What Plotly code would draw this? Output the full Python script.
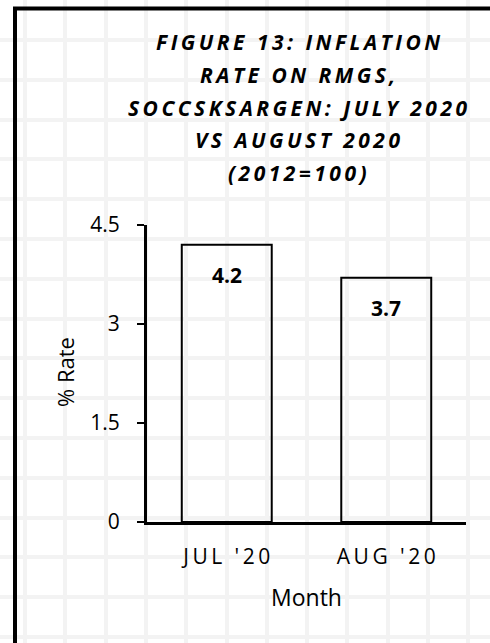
import plotly.graph_objects as go

# ---- data ----
months = ["JUL '20", "AUG '20"]
rates = [4.2, 3.7]
y_ticks = [0, 1.5, 3, 4.5]
y_tick_labels = ["0", "1.5", "3", "4.5"]
title_lines = [
    "FIGURE 13: INFLATION",
    "RATE ON RMGS,",
    "SOCCSKSARGEN: JULY 2020",
    "VS AUGUST 2020",
    "(2012=100)",
]
x_title = "Month"
y_title = "% Rate"

W, H = 490, 643
TS = "\u2009"  # thin space used to emulate letter spacing


def spaced(s):
    return TS.join(list(s))


def px(x):
    return x / W


def py(y):
    return 1 - y / H


FONT = "Open Sans"

fig = go.Figure()

# invisible trace so the background grid axes render
fig.add_trace(go.Scatter(x=[0], y=[0], xaxis="x", yaxis="y", mode="markers",
                         marker=dict(opacity=0), hoverinfo="skip", showlegend=False))

fig.add_trace(go.Bar(
    x=months, y=rates, xaxis="x2", yaxis="y2",
    marker=dict(color="rgba(0,0,0,0)", line=dict(color="black", width=2)),
    showlegend=False, hoverinfo="skip",
))

annotations = []
for m, v in zip(months, rates):
    annotations.append(dict(
        x=m, y=v, xref="x2", yref="y2", text=f"<b>{v}</b>", showarrow=False,
        yanchor="middle", yshift=-30,
        font=dict(family=FONT, size=21, color="black"),
    ))

title_y0, title_dy = 42.5, 32.5
for i, line in enumerate(title_lines):
    annotations.append(dict(
        x=px(297.5), y=py(title_y0 + i * title_dy), xref="paper", yref="paper",
        text=f"<b><i>{spaced(line)}</i></b>", showarrow=False,
        xanchor="center", yanchor="middle",
        font=dict(family=FONT, size=21, color="black"),
    ))

annotations.append(dict(
    x=px(306.5), y=py(597), xref="paper", yref="paper", text=x_title,
    showarrow=False, xanchor="center", yanchor="middle",
    font=dict(family=FONT, size=23, color="black"),
))
annotations.append(dict(
    x=px(65), y=py(372), xref="paper", yref="paper", text=y_title,
    showarrow=False, xanchor="center", yanchor="middle", textangle=-90,
    font=dict(family=FONT, size=22, color="black"),
))

grid_color = "#f3f3f3"

fig.update_layout(
    width=W, height=H,
    margin=dict(l=0, r=0, t=0, b=0, pad=0),
    paper_bgcolor="white", plot_bgcolor="rgba(0,0,0,0)",
    template="none",
    bargap=0.436,
    xaxis=dict(domain=[0, 1], range=[0, W], tick0=25, dtick=40.3,
               showgrid=True, gridcolor=grid_color, gridwidth=4,
               zeroline=False, showticklabels=False, ticks="", showline=False,
               fixedrange=True),
    yaxis=dict(domain=[0, 1], range=[H, 0], tick0=40, dtick=39.8,
               showgrid=True, gridcolor=grid_color, gridwidth=4,
               zeroline=False, showticklabels=False, ticks="", showline=False,
               fixedrange=True),
    xaxis2=dict(domain=[px(147), px(466)], anchor="y2", type="category",
                showgrid=False, zeroline=False, showline=True,
                linecolor="black", linewidth=3, ticks="",
                tickvals=months, ticktext=[spaced(m) for m in months],
                tickfont=dict(family=FONT, size=21, color="black"),
                ticklabelstandoff=14, automargin=False),
    yaxis2=dict(domain=[py(522), py(225)], anchor="x2", range=[0, 4.5],
                showgrid=False, zeroline=False, showline=True,
                linecolor="black", linewidth=3, ticks="outside", ticklen=7,
                tickwidth=2, tickcolor="black",
                tickvals=y_ticks, ticktext=y_tick_labels,
                tickfont=dict(family=FONT, size=21, color="black"),
                ticklabelstandoff=13, automargin=False),
    annotations=annotations,
    shapes=[dict(type="path", xref="paper", yref="paper",
                 path=f"M {px(15)} {py(H + 5)} L {px(15)} {py(8.5)} L {px(W + 5)} {py(8.5)}",
                 line=dict(color="black", width=4))],
)

fig.write_html(
    "out.html",
    config={"displayModeBar": False},
    post_script="document.body.style.margin='0';document.body.style.overflow='hidden';",
)
